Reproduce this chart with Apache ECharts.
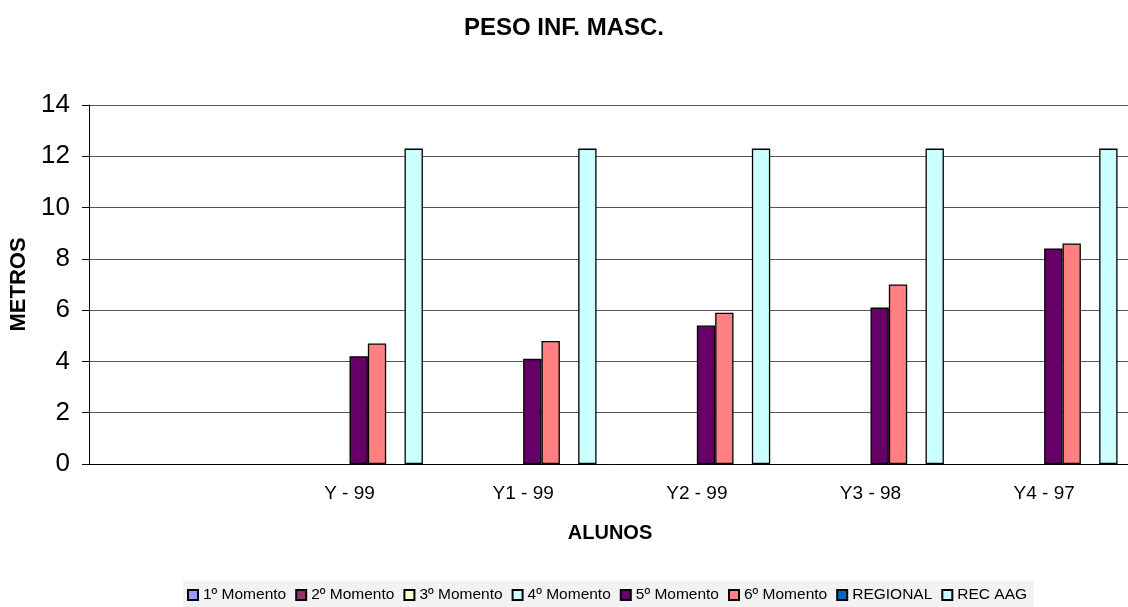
<!DOCTYPE html>
<html>
<head>
<meta charset="utf-8">
<script src="https://cdn.jsdelivr.net/npm/echarts@6/dist/echarts.min.js"></script>
<style>
  html, body { margin: 0; padding: 0; background: #fff; }
  #Canvas1 { width: 1128px; height: 607px; }
</style>
</head>
<body>
<div id="Canvas1"></div>
<script>
var categories = ['', 'Y - 99', 'Y1 - 99', 'Y2 - 99', 'Y3 - 98', 'Y4 - 97'];
var seriesNames = ['1º Momento', '2º Momento', '3º Momento', '4º Momento', '5º Momento', '6º Momento', 'REGIONAL', 'REC AAG'];
var seriesColors = ['#9999FF', '#993366', '#FFFFCC', '#CCFFFF', '#660066', '#FF8080', '#0066CC', '#CCFFFF'];
var momento1 = [null, null, null, null, null, null];
var momento2 = [null, null, null, null, null, null];
var momento3 = [null, null, null, null, null, null];
var momento4 = [null, null, null, null, null, null];
var momento5 = [null, 4.2, 4.1, 5.4, 6.1, 8.4];
var momento6 = [null, 4.7, 4.8, 5.9, 7.0, 8.6];
var regional = [null, null, null, null, null, null];
var recAag = [null, 12.3, 12.3, 12.3, 12.3, 12.3];
var yTicks = [0, 2, 4, 6, 8, 10, 12, 14];

var seriesData = [momento1, momento2, momento3, momento4, momento5, momento6, regional, recAag];
var font = 'Arial, "Liberation Sans", sans-serif';

var myChart = echarts.init(document.getElementById('Canvas1'));
var series = [];
for (var i = 0; i < seriesNames.length; i++) {
    series.push({
        name: seriesNames[i],
        type: 'bar',
        data: seriesData[i],
        barGap: '0%',
        barCategoryGap: '15.5%',
        itemStyle: { color: seriesColors[i], borderColor: '#000', borderWidth: 1.3 },
        emphasis: { disabled: true }
    });
}

var option = {
    animation: false,
    title: {
        text: 'PESO INF. MASC.',
        left: 'center',
        top: 11,
        textStyle: { fontFamily: font, fontSize: 24, fontWeight: 'bold', color: '#000' }
    },
    legend: {
        data: seriesNames,
        left: 183,
        top: 581,
        padding: [6, 7, 6, 4],
        backgroundColor: '#f2f2f2',
        itemWidth: 10,
        itemHeight: 10,
        itemGap: 9,
        icon: 'rect',
        selectedMode: false,
        textStyle: { fontFamily: font, fontSize: 15.5, color: '#000' }
    },
    grid: {
        left: 89,
        top: 105,
        width: 1042,
        height: 359,
        outerBoundsMode: 'none'
    },
    xAxis: {
        type: 'category',
        data: categories,
        name: 'ALUNOS',
        nameLocation: 'middle',
        nameGap: 59,
        nameTextStyle: { fontFamily: font, fontSize: 20, fontWeight: 'bold', color: '#000' },
        axisLine: { lineStyle: { color: '#000', width: 1 } },
        axisTick: { length: 7, lineStyle: { color: '#000' } },
        axisLabel: { fontFamily: font, fontSize: 19, color: '#000', margin: 20, interval: 0 }
    },
    yAxis: {
        type: 'value',
        min: yTicks[0],
        max: yTicks[yTicks.length - 1],
        interval: 2,
        name: 'METROS',
        nameLocation: 'middle',
        nameGap: 52,
        nameTextStyle: { fontFamily: font, fontSize: 22, fontWeight: 'bold', color: '#000' },
        axisLine: { show: true, lineStyle: { color: '#000', width: 1 } },
        axisTick: { show: true, length: 7, lineStyle: { color: '#000' } },
        axisLabel: { fontFamily: font, fontSize: 26, color: '#000', margin: 19 },
        splitLine: { lineStyle: { color: '#555', width: 1 } }
    },
    series: series
};
myChart.setOption(option);
</script>
</body>
</html>
